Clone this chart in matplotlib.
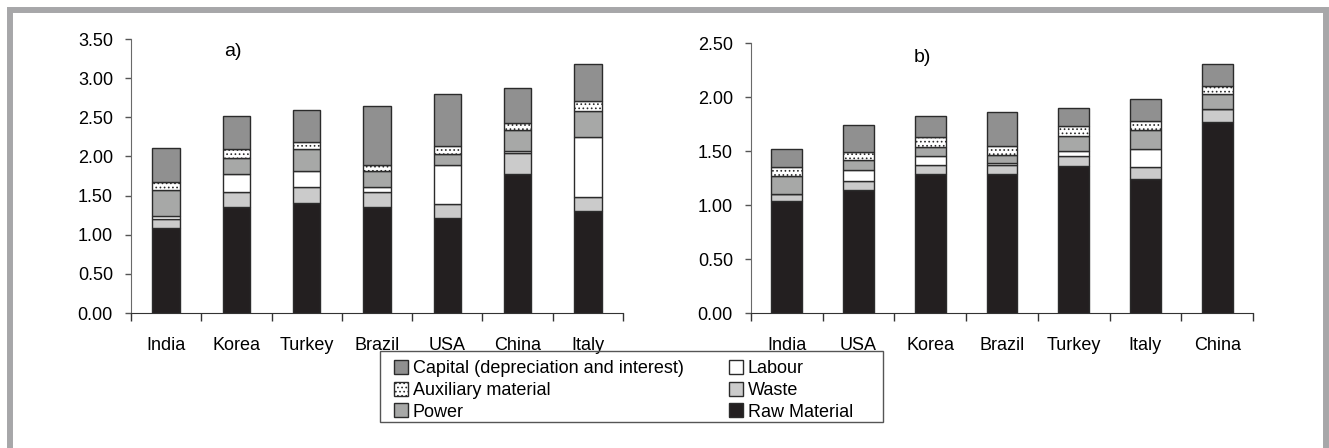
import matplotlib
matplotlib.use("Agg")
import matplotlib.pyplot as plt
import numpy as np
from matplotlib.patches import Patch, Rectangle

plt.rcParams["font.family"] = ["Liberation Sans", "DejaVu Sans"]
plt.rcParams["hatch.linewidth"] = 0.7

# cost components per country (segment heights, bottom to top)
countries_a = ["India", "Korea", "Turkey", "Brazil", "USA", "China", "Italy"]
raw_a = [1.08, 1.35, 1.41, 1.35, 1.22, 1.77, 1.30]
waste_a = [0.12, 0.19, 0.20, 0.19, 0.17, 0.28, 0.18]
labour_a = [0.04, 0.23, 0.20, 0.07, 0.50, 0.02, 0.77]
power_a = [0.33, 0.21, 0.29, 0.20, 0.14, 0.27, 0.33]
aux_a = [0.10, 0.12, 0.09, 0.08, 0.10, 0.09, 0.13]
capital_a = [0.44, 0.42, 0.40, 0.75, 0.67, 0.44, 0.47]

countries_b = ["India", "USA", "Korea", "Brazil", "Turkey", "Italy", "China"]
raw_b = [1.04, 1.14, 1.29, 1.29, 1.36, 1.24, 1.77]
waste_b = [0.06, 0.08, 0.08, 0.08, 0.09, 0.11, 0.12]
labour_b = [0.00, 0.10, 0.08, 0.02, 0.05, 0.17, 0.00]
power_b = [0.17, 0.10, 0.09, 0.07, 0.14, 0.17, 0.14]
aux_b = [0.08, 0.07, 0.09, 0.09, 0.09, 0.09, 0.07]
capital_b = [0.17, 0.25, 0.19, 0.31, 0.17, 0.20, 0.21]

EDGE = "#2b2b2b"
STYLES = {
    "Raw Material": dict(facecolor="#231f20"),
    "Waste": dict(facecolor="#cbcbcb"),
    "Labour": dict(facecolor="white"),
    "Power": dict(facecolor="#a7a8a7"),
    "Auxiliary material": dict(facecolor="white", hatch="...."),
    "Capital (depreciation and interest)": dict(facecolor="#909090"),
}


def stacked(ax, countries, parts, width, ymax):
    x = np.arange(len(countries))
    bottom = np.zeros(len(countries))
    for name, vals in parts:
        vals = np.array(vals)
        ax.bar(x, vals, width, bottom=bottom, edgecolor=EDGE, linewidth=1.0,
               **STYLES[name])
        bottom += vals
    ax.set_xlim(-0.5, len(countries) - 0.5)
    ax.set_ylim(0, ymax)
    yt = np.arange(0, ymax + 0.01, 0.5)
    ax.set_yticks(yt)
    ax.set_yticklabels([f"{v:.2f}" for v in yt])
    ax.set_xticks(x)
    ax.set_xticklabels(countries)
    ax.set_xticks(np.arange(-0.5, len(countries)), minor=True)
    ax.tick_params(axis="x", which="major", length=0, pad=17, labelsize=13)
    ax.tick_params(axis="x", which="minor", length=6, width=1, color="#333333")
    ax.tick_params(axis="y", length=4, width=1, color="#555555", pad=9,
                   labelsize=13)
    for s in ("top", "right"):
        ax.spines[s].set_visible(False)
    ax.spines["left"].set_color("#6a6a6a")
    ax.spines["bottom"].set_color("#333333")


fig = plt.figure(figsize=(13.29, 4.48), dpi=100)
ax1 = fig.add_axes([0.0986, 0.3013, 0.3702, 0.6116])
ax2 = fig.add_axes([0.5651, 0.3013, 0.3777, 0.6027])

stacked(ax1, countries_a, [("Raw Material", raw_a), ("Waste", waste_a),
                           ("Labour", labour_a), ("Power", power_a),
                           ("Auxiliary material", aux_a),
                           ("Capital (depreciation and interest)", capital_a)],
        0.39, 3.5)
stacked(ax2, countries_b, [("Raw Material", raw_b), ("Waste", waste_b),
                           ("Labour", labour_b), ("Power", power_b),
                           ("Auxiliary material", aux_b),
                           ("Capital (depreciation and interest)", capital_b)],
        0.43, 2.5)

fig.text(233 / 1329, 1 - 52 / 448, "a)", fontsize=14, ha="center", va="center")
fig.text(922 / 1329, 1 - 57 / 448, "b)", fontsize=14, ha="center", va="center")

order = ["Capital (depreciation and interest)", "Auxiliary material", "Power",
         "Labour", "Waste", "Raw Material"]
handles = [Patch(edgecolor=EDGE, linewidth=1.0, label=n, **STYLES[n]) for n in order]
fig.legend(handles=handles, ncol=2, loc="upper left",
           bbox_to_anchor=(394 / 1329, 1 - 360 / 448), borderaxespad=0,
           fontsize=13, frameon=False,
           handlelength=0.8, handleheight=0.8, handletextpad=0.25,
           labelspacing=0.25, columnspacing=2.5, borderpad=0.0)
# legend box, drawn wider than the entries
fig.patches.append(Rectangle((380 / 1329, 1 - 422 / 448), 503 / 1329, 71 / 448,
                             transform=fig.transFigure, fill=False,
                             edgecolor="#555555", linewidth=1.0))

# grey page frame (open at the bottom)
fig.patches.append(Rectangle((10 / 1329, -0.1), 1316 / 1329, 1.1 - 10 / 448,
                             transform=fig.transFigure, fill=False,
                             edgecolor="#a7a7a9", linewidth=4.3, zorder=0))

fig.savefig("out.png", dpi=100)
